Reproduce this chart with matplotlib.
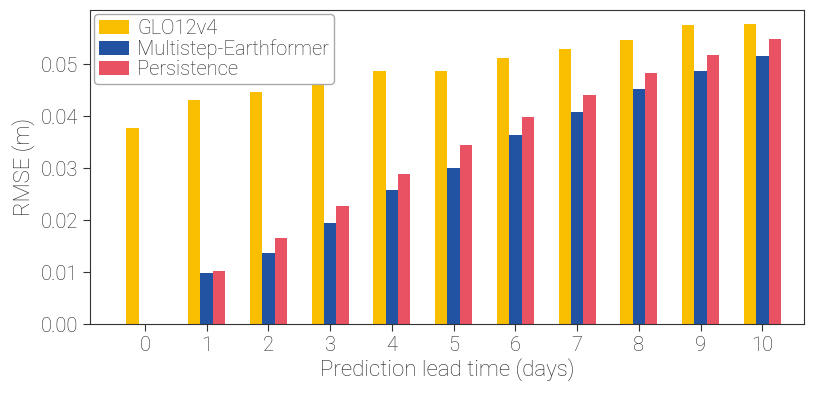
import numpy as np
import matplotlib
matplotlib.use("Agg")
import matplotlib.pyplot as plt

plt.rcParams["font.family"] = ["Roboto", "DejaVu Sans"]
plt.rcParams["font.weight"] = "light"
plt.rcParams["axes.labelweight"] = "light"

# lead times (days)
lead_days = [0, 1, 2, 3, 4, 5, 6, 7, 8, 9, 10]

# RMSE (m) per model
glo12v4 = [0.0377, 0.0431, 0.0447, 0.0463, 0.0486, 0.0486, 0.0512, 0.0529, 0.0546, 0.0575, 0.0577]
earthformer = [0.0, 0.0098, 0.0137, 0.0194, 0.0258, 0.0300, 0.0364, 0.0408, 0.0452, 0.0486, 0.0515]
persistence = [0.0, 0.0102, 0.0165, 0.0228, 0.0288, 0.0345, 0.0399, 0.0440, 0.0482, 0.0518, 0.0548]

labels = ["GLO12v4", "Multistep-Earthformer", "Persistence"]
colors = ["#F9BE00", "#2253A3", "#E85263"]

x = np.arange(len(lead_days))
w = 0.2

fig = plt.figure(figsize=(8.15, 3.94), dpi=100)
ax = fig.add_axes([0.1104, 0.177, 0.8765, 0.7976])

for i, vals in enumerate([glo12v4, earthformer, persistence]):
    ax.bar(x + (i - 1) * w, vals, width=w, color=colors[i], label=labels[i])

ax.set_xticks(x)
ax.set_xticklabels([str(d) for d in lead_days])
ax.set_xlim(-0.89, 10.68)
ax.set_ylim(0, 0.0604)
ax.set_yticks([0.0, 0.01, 0.02, 0.03, 0.04, 0.05])
ax.set_yticklabels(["0.00", "0.01", "0.02", "0.03", "0.04", "0.05"])
ax.tick_params(labelsize=14.5, color="#333333", length=5, labelcolor="#222222")
for s in ax.spines.values():
    s.set_color("#333333")

ax.set_xlabel("Prediction lead time (days)", fontsize=16, labelpad=2, color="#222222")
ax.set_ylabel("RMSE (m)", fontsize=16, labelpad=4, color="#222222")

leg = ax.legend(loc="upper left", fontsize=14.5, handlelength=1.5, handleheight=0.7,
                handletextpad=0.4, labelspacing=0.05, borderpad=0.25,
                borderaxespad=0.2, fancybox=True, edgecolor="#aaaaaa", framealpha=1,
                labelcolor="#222222")

fig.savefig("out.png", dpi=100)
